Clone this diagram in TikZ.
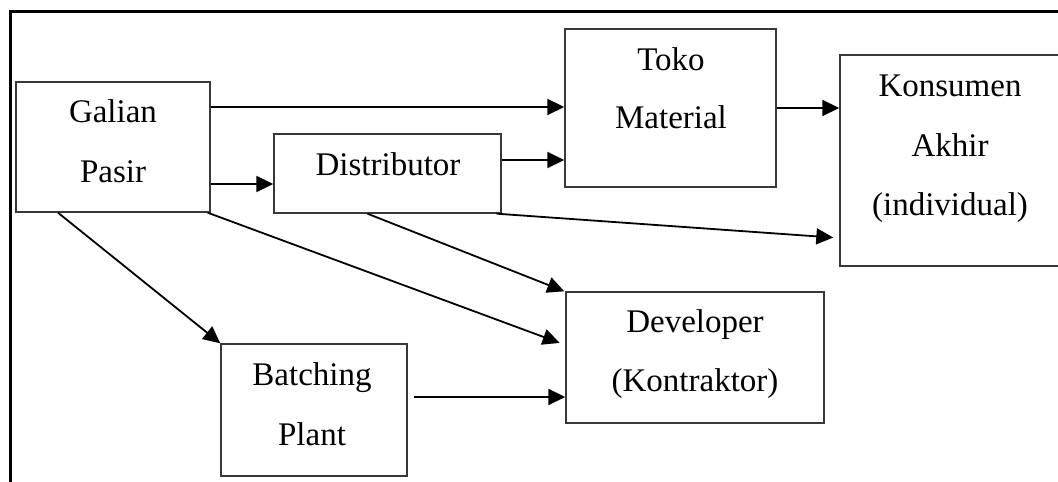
\documentclass[tikz,border=0pt]{standalone}
\usepackage{fontspec}
\setmainfont{Liberation Serif}
\usetikzlibrary{arrows.meta}
\definecolor{boxline}{HTML}{383838}
\tikzset{
  box/.style={draw=boxline, line width=1.4pt, rectangle, inner sep=0pt},
  lbl/.style={anchor=base, inner sep=0pt, font=\fontsize{33}{36}\selectfont},
  arr/.style={draw=black, line width=1.8pt,
    -{Triangle[length=17pt,width=16pt]}},
  frameline/.style={line width=3pt, draw=black}
}
\begin{document}
\begin{tikzpicture}[x=1pt,y=1pt]
\useasboundingbox (0,0) rectangle (1058,482);
\fill[white] (0,0) rectangle (1058,482);

% outer frame (top and left edges)
\coordinate (fr-bl) at (10,0);
\coordinate (fr-tl) at (10,470);
\coordinate (fr-tr) at (1058,470);
\draw[frameline] (fr-bl) -- (fr-tl) -- (fr-tr);

% boxes
\node[box, minimum width=194, minimum height=130] (galian) at (113,335) {};
\node[box, minimum width=227, minimum height=79]  (dist)   at (387.5,308.5) {};
\node[box, minimum width=211, minimum height=158] (toko)   at (670.5,374) {};
\node[box, minimum width=225, minimum height=211] (kons)   at (952.5,321.5) {};
\node[box, minimum width=258, minimum height=131] (dev)    at (695,124.5) {};
\node[box, minimum width=186, minimum height=132] (batch)  at (314,72) {};

% labels
\node[lbl] (galian-a) at (113,359) {Galian};
\node[lbl] (galian-b) at (113,299) {Pasir};
\node[lbl] (dist-a)   at (388,306) {Distributor};
\node[lbl] (toko-a)   at (671,411) {Toko};
\node[lbl] (toko-b)   at (671,353) {Material};
\node[lbl] (kons-a)   at (950,385) {Konsumen};
\node[lbl] (kons-b)   at (950,325) {Akhir};
\node[lbl] (kons-c)   at (950,266) {(individual)};
\node[lbl] (dev-a)    at (695,149) {Developer};
\node[lbl] (dev-b)    at (695,90)  {(Kontraktor)};
\node[lbl] (batch-a)  at (312,96)  {Batching};
\node[lbl] (batch-b)  at (312,36)  {Plant};

% flows
\draw[arr] (galian.east |- 0,375) -- (toko.west |- 0,375);
\draw[arr] (galian.east |- 0,298) -- (dist.west |- 0,298);
\draw[arr] (dist.east |- 0,322) -- (toko.west |- 0,322);
\draw[arr] (toko.east |- 0,374) -- (kons.west |- 0,374);
\draw[arr, shorten >=6pt] ([xshift=-5pt]dist.south east) -- (kons.west |- 0,244);
\draw[arr] ([xshift=-20pt]dist.south) -- ([xshift=-1pt]dev.north west);
\draw[arr, shorten >=6pt] ([xshift=-3pt]galian.south east) -- (dev.west |- 0,137);
\draw[arr] ([xshift=-55pt]galian.south) -- (batch.north west);
\draw[arr] ([xshift=6pt]batch.east |- 0,85) -- (dev.west |- 0,85);
\end{tikzpicture}
\end{document}
